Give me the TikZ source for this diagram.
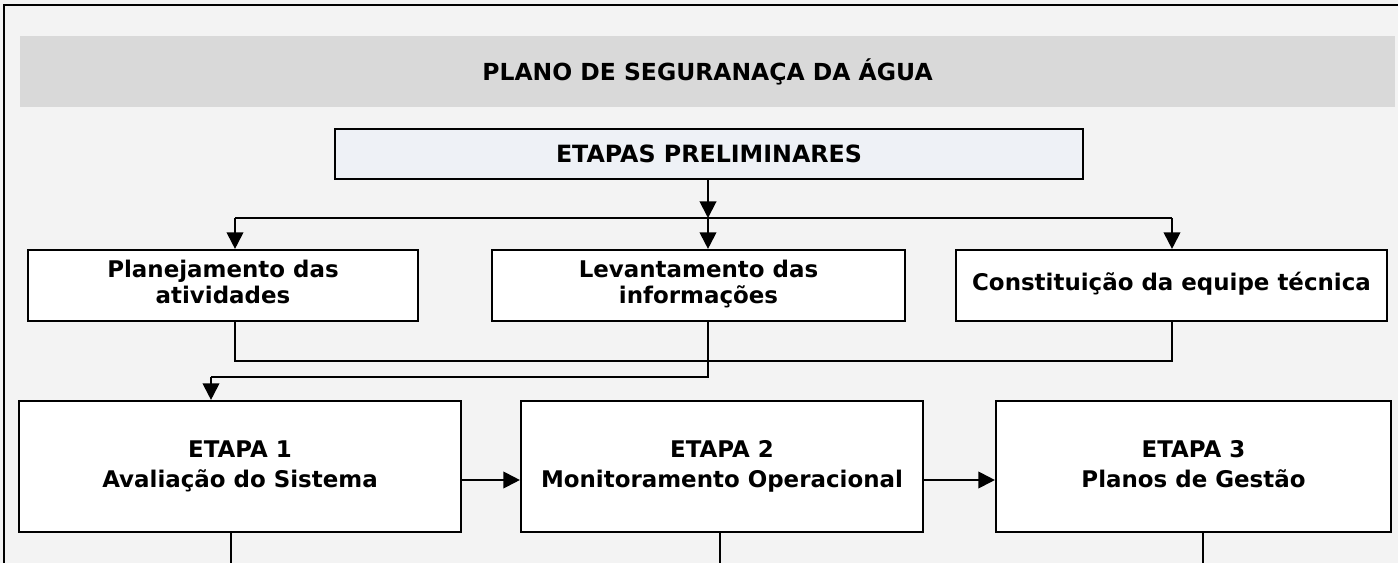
\documentclass[tikz,border=0pt]{standalone}
\usepackage{fontspec}
\setmainfont{DejaVu Sans}
\usetikzlibrary{arrows.meta,calc}
\definecolor{bgc}{HTML}{F3F3F3}
\definecolor{bandc}{HTML}{D9D9D9}
\definecolor{prelc}{HTML}{EEF1F6}
\tikzset{
  boxn/.style={draw=black, line width=1.6pt, fill=white, inner sep=0pt, align=center, font=\bfseries\fontsize{17.2}{19}\selectfont},
  bigbox/.style={boxn, font=\bfseries\fontsize{17.2}{23}\selectfont},
  conn/.style={draw=black, line width=1.5pt},
  arr/.style={conn, -{Triangle[length=12.5pt,width=12.5pt]}},
}
\begin{document}
\begin{tikzpicture}[x=0.75pt,y=-0.75pt]
\useasboundingbox (0,0) rectangle (1398,563);
\fill[bgc] (0,0) rectangle (1398,563);
\draw[line width=2pt] (4,563) -- (4,5) -- (1398,5);
% title band
\node[fill=bandc, minimum width=1375*0.75pt, minimum height=71*0.75pt, inner sep=0pt, font=\bfseries\fontsize{17.6}{20}\selectfont] (title) at (707.5,71.5) {PLANO DE SEGURANAÇA DA ÁGUA};
% preliminary
\node[boxn, fill=prelc, minimum width=748*0.75pt, minimum height=50*0.75pt, font=\bfseries\fontsize{17.8}{20}\selectfont] (prel) at (709,154) {ETAPAS PRELIMINARES};
\node[boxn, minimum width=390*0.75pt, minimum height=71*0.75pt] (plan) at (223,285.5) {\strut Planejamento das\\atividades\strut};
\node[boxn, minimum width=413*0.75pt, minimum height=71*0.75pt] (lev) at (698.5,285.5) {\strut Levantamento das\\informações\strut};
\node[boxn, minimum width=431*0.75pt, minimum height=71*0.75pt] (cons) at (1171.5,285.5) {\strut Constituição da equipe técnica\strut};
% etapas
\node[bigbox, minimum width=442*0.75pt, minimum height=131*0.75pt] (e1) at (240,466.5) {\strut ETAPA 1\\Avaliação do Sistema\strut};
\node[bigbox, minimum width=402*0.75pt, minimum height=131*0.75pt] (e2) at (722,466.5) {\strut ETAPA 2\\Monitoramento Operacional\strut};
\node[bigbox, minimum width=395*0.75pt, minimum height=131*0.75pt] (e3) at (1193.5,466.5) {\strut ETAPA 3\\Planos de Gestão\strut};
% junction coordinates
\coordinate (jm) at (708,218);
\coordinate (jl) at (235,218);
\coordinate (jr) at (1172,218);
\coordinate (bl) at (235,361);
\coordinate (br) at (1172,361);
\coordinate (bm) at (708,377);
\coordinate (ba) at (211,377);
\coordinate (b1) at (231,563);
\coordinate (b2) at (720,563);
\coordinate (b3) at (1203,563);
% top distribution
\draw[arr] (prel.south -| jm) -- (jm);
\draw[conn] (jl) -- (jr);
\draw[arr] (jl) -- (plan.north -| jl);
\draw[arr] (jm) -- (lev.north -| jm);
\draw[arr] (jr) -- (cons.north -| jr);
% collection
\draw[conn] (plan.south -| bl) -- (bl) -- (br) -- (cons.south -| br);
\draw[conn] (lev.south -| bm) -- (bm) -- (ba);
\draw[arr] (ba) -- (e1.north -| ba);
% etapa arrows
\draw[arr] (e1.east |- 0,480) -- (e2.west |- 0,480);
\draw[arr] (e2.east |- 0,480) -- (e3.west |- 0,480);
% bottom lines
\draw[conn] (e1.south -| b1) -- (b1);
\draw[conn] (e2.south -| b2) -- (b2);
\draw[conn] (e3.south -| b3) -- (b3);
\end{tikzpicture}
\end{document}
